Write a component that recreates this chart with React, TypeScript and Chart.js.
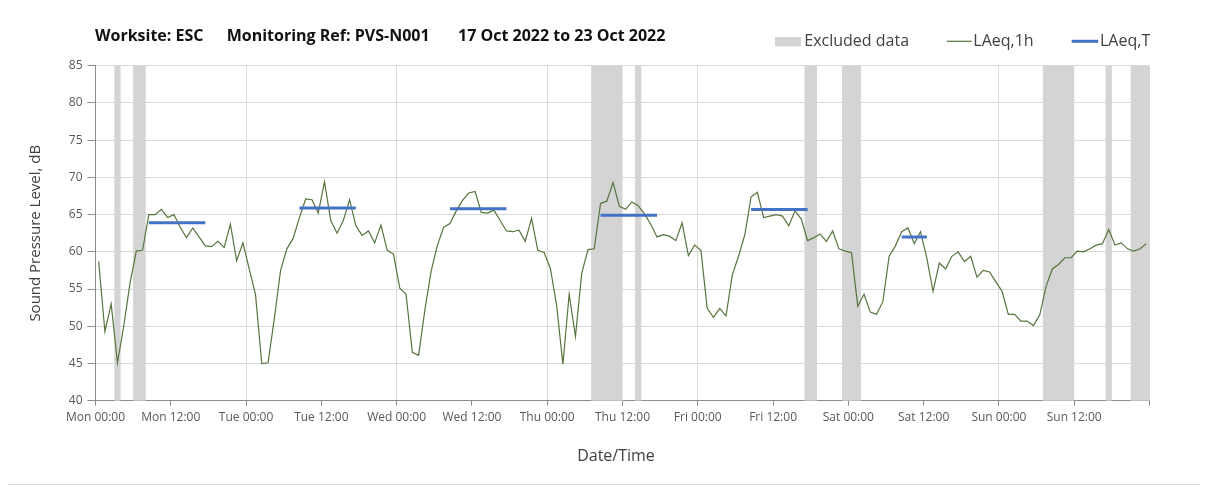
import React, { useEffect, useRef } from "react";
import { Chart, registerables } from "chart.js";

Chart.register(...registerables);

// ---------- data ----------
const tickLabels = [
  "Mon 00:00", "Mon 12:00", "Tue 00:00", "Tue 12:00", "Wed 00:00", "Wed 12:00",
  "Thu 00:00", "Thu 12:00", "Fri 00:00", "Fri 12:00", "Sat 00:00", "Sat 12:00",
  "Sun 00:00", "Sun 12:00",
];

// hourly LAeq,1h values, Mon 00:00 .. Sun 23:00
const laeq1h = [
  58.7, 49.3, 53.0, 45.1, 50.0, 55.8, 60.1, 60.2, 65.0, 65.0, 65.7, 64.6,
  65.0, 63.3, 61.9, 63.2, 62.0, 60.8, 60.7, 61.4, 60.6, 63.7, 58.8, 61.2,
  57.7, 54.3, 45.0, 45.1, 51.0, 57.5, 60.4, 61.8, 64.6, 67.1, 67.0, 65.2,
  69.4, 64.2, 62.5, 64.2, 67.0, 63.5, 62.2, 62.8, 61.2, 63.6, 60.2, 59.7,
  55.1, 54.3, 46.5, 46.1, 52.2, 57.4, 60.9, 63.3, 63.8, 65.5, 66.9, 67.9,
  68.1, 65.3, 65.2, 65.6, 64.2, 62.8, 62.7, 62.9, 61.4, 64.5, 60.2, 59.9,
  57.8, 52.8, 44.9, 54.3, 48.6, 57.1, 60.3, 60.4, 66.5, 66.8, 69.3, 66.1,
  65.7, 66.7, 66.2, 65.1, 63.7, 62.0, 62.3, 62.1, 61.5, 63.9, 59.5, 60.9,
  60.2, 52.4, 51.2, 52.4, 51.4, 56.9, 59.4, 62.3, 67.4, 68.0, 64.6, 64.8,
  65.0, 64.8, 63.5, 65.5, 64.4, 61.5, 61.9, 62.4, 61.4, 62.8, 60.4, 60.1,
  59.9, 52.7, 54.3, 51.9, 51.6, 53.3, 59.4, 60.8, 62.7, 63.2, 61.1, 62.7,
  59.2, 54.7, 58.5, 57.7, 59.4, 60.0, 58.7, 59.4, 56.6, 57.5, 57.3, 56.0,
  54.7, 51.6, 51.6, 50.7, 50.7, 50.1, 51.5, 55.3, 57.7, 58.3, 59.2, 59.2,
  60.1, 60.0, 60.4, 60.9, 61.1, 63.0, 60.9, 61.2, 60.4, 60.1, 60.4, 61.1,
];

// LAeq,T period levels (hours from Mon 00:00)
const laeqTValues = [63.9, 65.9, 65.8, 64.9, 65.7, 62.0];
const laeqTStart = [8.5, 32.5, 56.5, 80.5, 104.5, 128.5];
const laeqTEnd = [17.5, 41.5, 65.5, 89.5, 113.5, 132.5];

// excluded periods (hours from Mon 00:00)
const excludedStart = [3, 6, 79, 86, 113, 119, 151, 161, 165];
const excludedEnd = [4, 8, 84, 87, 115, 122, 156, 162, 168];

const titleParts = ["Worksite: ESC", "Monitoring Ref: PVS-N001", "17 Oct 2022 to 23 Oct 2022"];
const legendLabels = ["Excluded data", "LAeq,1h", "LAeq,T"];
const yTitle = "Sound Pressure Level, dB";
const xTitle = "Date/Time";

// ---------- styles ----------
const FONT = "'Open Sans', 'Noto Sans', sans-serif";
const GREEN = "#56743d";
const BLUE = "#4472C4";
const GREY_BAND = "#d4d4d4";
const TEXT = "#404040";

export default function App() {
  const canvasRef = useRef<HTMLCanvasElement | null>(null);

  useEffect(() => {
    if (!canvasRef.current) return;

    const lineData = laeq1h.map((v, i) => ({ x: i + 0.5, y: v }));
    const tData: { x: number; y: number | null }[] = [];
    laeqTValues.forEach((v, i) => {
      tData.push({ x: laeqTStart[i], y: v });
      tData.push({ x: laeqTEnd[i], y: v });
      tData.push({ x: laeqTEnd[i] + 0.01, y: null });
    });

    const overlay = {
      id: "overlay",
      beforeDatasetsDraw(chart: any) {
        const { ctx, chartArea, scales } = chart;
        ctx.save();
        ctx.fillStyle = GREY_BAND;
        excludedStart.forEach((s, i) => {
          const x1 = scales.x.getPixelForValue(s);
          const x2 = scales.x.getPixelForValue(excludedEnd[i]);
          ctx.fillRect(x1, chartArea.top, x2 - x1, chartArea.bottom - chartArea.top);
        });
        ctx.restore();
      },
      afterDraw(chart: any) {
        const { ctx } = chart;
        ctx.save();
        // title
        ctx.fillStyle = "#111";
        ctx.font = `bold 16px ${FONT}`;
        ctx.textBaseline = "alphabetic";
        ctx.textAlign = "left";
        const titleX = [89, 220.7, 452];
        titleParts.forEach((t, i) => ctx.fillText(t, titleX[i], 35.3));

        // legend
        ctx.font = `16px ${FONT}`;
        ctx.fillStyle = GREY_BAND;
        ctx.fillRect(769, 31, 26, 9.3);
        ctx.fillStyle = TEXT;
        ctx.fillText(legendLabels[0], 798.3, 40.3);

        ctx.strokeStyle = GREEN;
        ctx.lineWidth = 1.2;
        ctx.beginPath();
        ctx.moveTo(940.7, 35.3);
        ctx.lineTo(965.7, 35.3);
        ctx.stroke();
        ctx.fillText(legendLabels[1], 967.3, 40.3);

        ctx.strokeStyle = BLUE;
        ctx.lineWidth = 3;
        ctx.beginPath();
        ctx.moveTo(1065.7, 35.3);
        ctx.lineTo(1092.3, 35.3);
        ctx.stroke();
        ctx.fillText(legendLabels[2], 1094, 40.3);

        // x axis title
        ctx.font = `16px ${FONT}`;
        ctx.textAlign = "center";
        ctx.fillText(xTitle, 610, 454.7);
        ctx.restore();
      },
    };

    const chart = new Chart(canvasRef.current, {
      type: "line",
      data: {
        datasets: [
          {
            label: legendLabels[2],
            data: tData as any,
            borderColor: BLUE,
            borderWidth: 3,
            pointRadius: 0,
            borderCapStyle: "butt",
            spanGaps: false,
            order: 0,
          },
          {
            label: legendLabels[1],
            data: lineData,
            borderColor: GREEN,
            borderWidth: 1.2,
            pointRadius: 0,
            tension: 0,
            order: 1,
          },
        ],
      },
      options: {
        animation: false,
        responsive: false,
        maintainAspectRatio: false,
        layout: { padding: { left: 0, right: 52.5, top: 59.7, bottom: 0 } },
        plugins: {
          legend: { display: false },
          tooltip: { enabled: false },
          title: { display: false },
        },
        scales: {
          x: {
            type: "linear",
            min: 0,
            max: 168,
            afterFit: (scale: any) => {
              scale.height = 83.3;
            },
            ticks: {
              stepSize: 12,
              autoSkip: false,
              maxRotation: 0,
              padding: 5,
              color: "#595959",
              font: { family: FONT, size: 12 },
              callback: (v: any) => tickLabels[Math.round(Number(v) / 12)] ?? "",
            },
            grid: {
              color: (c: any) =>
                c.tick && c.tick.value % 24 === 0 ? "#d9d9d9" : "rgba(0,0,0,0)",
              tickColor: "#8c8c8c",
              tickLength: 5,
              lineWidth: 1,
            },
            border: { color: "#8c8c8c", width: 1 },
          },
          y: {
            type: "linear",
            min: 40,
            max: 85,
            afterFit: (scale: any) => {
              scale.width = 89.5;
            },
            ticks: {
              stepSize: 5,
              padding: 5,
              color: "#595959",
              font: { family: FONT, size: 12 },
            },
            grid: {
              color: "#d9d9d9",
              tickColor: "#8c8c8c",
              tickLength: 8,
            },
            border: { color: "#8c8c8c", width: 1 },
            title: {
              display: true,
              text: yTitle,
              color: TEXT,
              font: { family: FONT, size: 15 },
              padding: { top: 21, bottom: 0 },
            },
          },
        },
      },
      plugins: [overlay],
    });

    return () => chart.destroy();
  }, []);

  return (
    <div
      style={{
        position: "relative",
        width: 1198,
        height: 480,
        margin: "-3px 0 0 -3px",
        border: "1px solid #d9d9d9",
        boxSizing: "border-box",
        background: "#fff",
      }}
    >
      <canvas ref={canvasRef} width={1196} height={478} style={{ display: "block" }} />
    </div>
  );
}
